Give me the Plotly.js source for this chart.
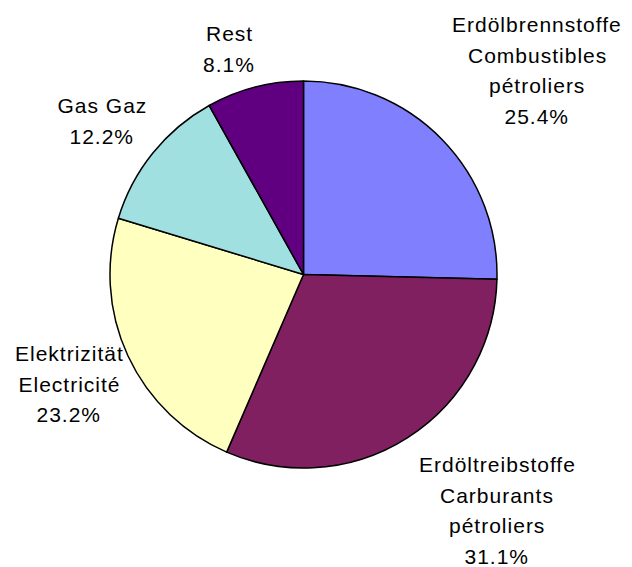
<!DOCTYPE html>
<html>
<head>
<meta charset="utf-8">
<script src="https://cdn.plot.ly/plotly-3.0.1.min.js"></script>
<style>
html,body{margin:0;padding:0;background:#fff}
#chart{width:632px;height:567px}
#chart .annotation-text{letter-spacing:1px}
</style>
</head>
<body>
<div id="chart"></div>
<script>
var labels = ["Erdölbrennstoffe<br>Combustibles<br>pétroliers", "Erdöltreibstoffe<br>Carburants<br>pétroliers", "Elektrizität<br>Electricité", "Gas Gaz", "Rest"];
var values = [25.4, 31.1, 23.2, 12.2, 8.1];
var colors = ["#8080FF", "#802060", "#FFFFC0", "#A0E0E0", "#600080"];
// label layout: block centre x and first-line baseline y (pixels)
var labelX = [537, 497, 69, 102, 229];
var labelBase = [29, 469, 358, 110, 38];
var lineGap = 30.5;
var fontSize = 21;

var W = 632, H = 567;
var annotations = [];
labels.forEach(function (l, i) {
  var lines = l.split("<br>").concat([values[i].toFixed(1) + "%"]);
  lines.forEach(function (t, k) {
    var cy = labelBase[i] + k * lineGap - 4.5;
    annotations.push({
      text: t,
      xref: "paper", yref: "paper",
      x: labelX[i] / W, y: 1 - cy / H,
      xanchor: "center", yanchor: "middle",
      showarrow: false, align: "center",
      font: {family: "Liberation Sans, Arial, sans-serif", size: fontSize, color: "#000"}
    });
  });
});

var trace = {
  type: "pie",
  labels: labels,
  values: values,
  sort: false,
  direction: "clockwise",
  rotation: 0,
  textinfo: "none",
  hoverinfo: "label+percent",
  marker: {colors: colors, line: {color: "#000", width: 1.5}},
  domain: {x: [110 / W, 497 / W], y: [(H - 468) / H, (H - 81) / H]},
  showlegend: false
};

Plotly.newPlot("chart", [trace], {
  width: W, height: H,
  margin: {l: 0, r: 0, t: 0, b: 0},
  paper_bgcolor: "#fff",
  showlegend: false,
  annotations: annotations
}, {displayModeBar: false});
</script>
</body>
</html>
